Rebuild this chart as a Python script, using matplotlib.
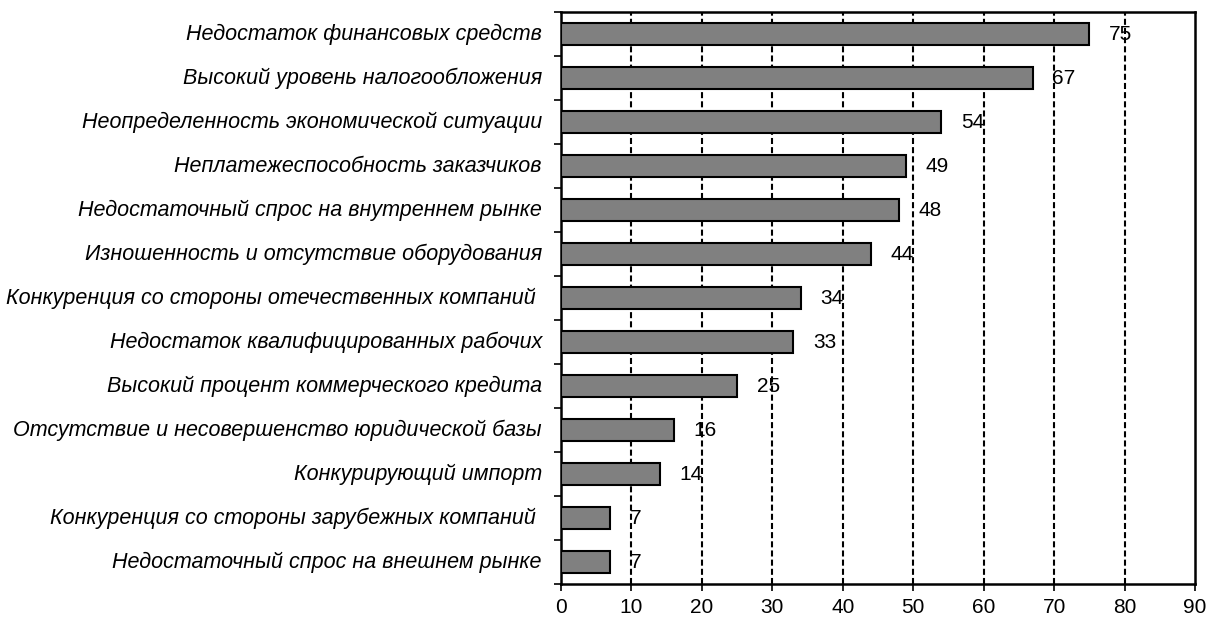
import matplotlib.pyplot as plt

categories = [
    "Недостаток финансовых средств",
    "Высокий уровень налогообложения",
    "Неопределенность экономической ситуации",
    "Неплатежеспособность заказчиков",
    "Недостаточный спрос на внутреннем рынке",
    "Изношенность и отсутствие оборудования",
    "Конкуренция со стороны отечественных компаний ",
    "Недостаток квалифицированных рабочих",
    "Высокий процент коммерческого кредита",
    "Отсутствие и несовершенство юридической базы",
    "Конкурирующий импорт",
    "Конкуренция со стороны зарубежных компаний ",
    "Недостаточный спрос на внешнем рынке",
]
values = [75, 67, 54, 49, 48, 44, 34, 33, 25, 16, 14, 7, 7]
xticks = [0, 10, 20, 30, 40, 50, 60, 70, 80, 90]

plt.rcParams['font.family'] = ['Liberation Sans', 'DejaVu Sans']

fig = plt.figure(figsize=(12.08, 6.18), dpi=100)
ax = fig.add_axes([561 / 1208, 1 - 584 / 618, (1195 - 561) / 1208, (584 - 12) / 618])

n = len(categories)
pos = list(range(n))
ax.barh(pos, values, height=0.5, color="#808080", edgecolor="black",
        linewidth=1.5, zorder=3)

for p, v in zip(pos, values):
    ax.annotate(str(v), (v, p), xytext=(14, 0), textcoords="offset points",
                ha="left", va="center", fontsize=15, zorder=4)

ax.set_xlim(0, 90)
ax.set_ylim(n - 0.5, -0.5)
ax.set_xticks(xticks)
ax.tick_params(axis="x", labelsize=15, direction="out", length=5, width=1.2, pad=5)

# category labels, ticks at the boundaries
ax.set_yticks([i - 0.5 for i in range(n + 1)])
ax.set_yticklabels([])
ax.tick_params(axis="y", direction="out", length=5, width=1.2)
for p, c in zip(pos, categories):
    ax.text(-0.03, p, c, transform=ax.get_yaxis_transform(),
            ha="right", va="center", fontsize=15.5, style="italic")

for x in xticks[1:-1]:
    ax.axvline(x, color="black", linestyle=(0, (2.9, 1.5)), linewidth=1.5, zorder=1)

for s in ax.spines.values():
    s.set_linewidth(1.8)

fig.savefig("out.png", dpi=100)
